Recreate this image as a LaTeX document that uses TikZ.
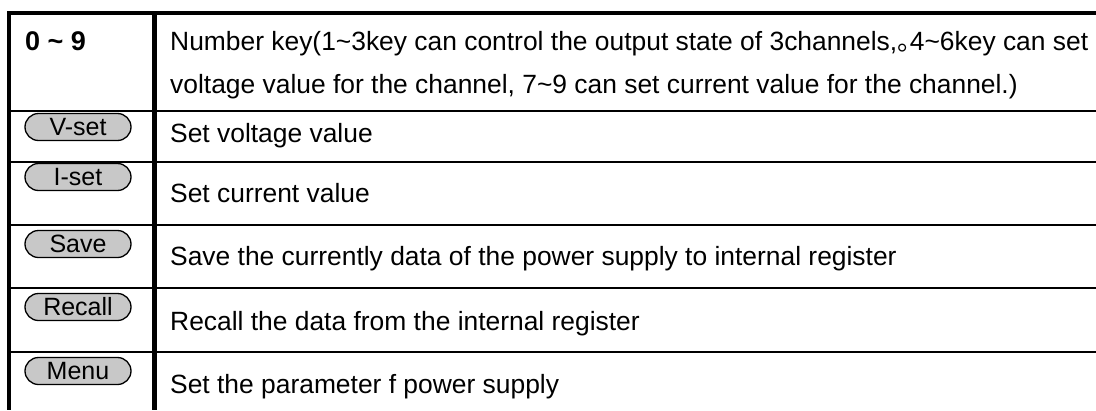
\documentclass[tikz,border=0pt]{standalone}
\usepackage{fontspec}
\setmainfont{Liberation Sans}
\newfontfamily\cjk{Noto Sans CJK SC}
\definecolor{pillgray}{RGB}{200,200,200}
\tikzset{
  frameline/.style={line width=4pt},
  rowline/.style={line width=2.4pt},
  keypill/.style={draw=black, line width=1.3pt, fill=pillgray, rounded corners=13.5pt,
    minimum width=106pt, minimum height=27pt, inner sep=0pt,
    font=\fontsize{25}{25}\selectfont, text height=17.5pt, text depth=0pt},
  desc/.style={anchor=base west, inner sep=0pt, font=\fontsize{26.4}{30}\selectfont},
}
\begin{document}
\begin{tikzpicture}[x=1pt,y=-1pt]
\useasboundingbox (0,0) rectangle (1096,410);
\fill[white] (0,0) rectangle (1096,410);
% row separators
\foreach \yy in {111,162,225,288,352}{
  \draw[rowline] (7,\yy) -- (1096,\yy);
}
% frame
\draw[frameline] (7,13) -- (1096,13);
\draw[frameline] (9,11) -- (9,410);
\draw[frameline, line width=5pt] (154.5,13) -- (154.5,410);
% left column
\node[desc, font=\bfseries\fontsize{27}{30}\selectfont] (k09) at (25,50) {0 \textasciitilde{} 9};
\node[keypill] (vset) at (78,127) {V-set};
\node[keypill] (iset) at (78,177) {I-set};
\node[keypill] (save) at (78,244) {Save};
\node[keypill] (recall) at (78,307) {Recall};
\node[keypill] (menu) at (78,371) {Menu};
% right column
\node[desc] (d1a) at (170,50) {Number key(1\textasciitilde 3key can control the output state of 3channels,\makebox[12.5pt][l]{\cjk 。}4\textasciitilde 6key can set};
\node[desc] (d1b) at (170,93) {voltage value for the channel, 7\textasciitilde 9 can set current value for the channel.)};
\node[desc] (d2) at (170,142) {Set voltage value};
\node[desc] (d3) at (170,202) {Set current value};
\node[desc] (d4) at (170,265) {Save the currently data of the power supply to internal register};
\node[desc] (d5) at (170,330) {Recall the data from the internal register};
\node[desc] (d6) at (170,393) {Set the parameter f power supply};
\end{tikzpicture}
\end{document}
